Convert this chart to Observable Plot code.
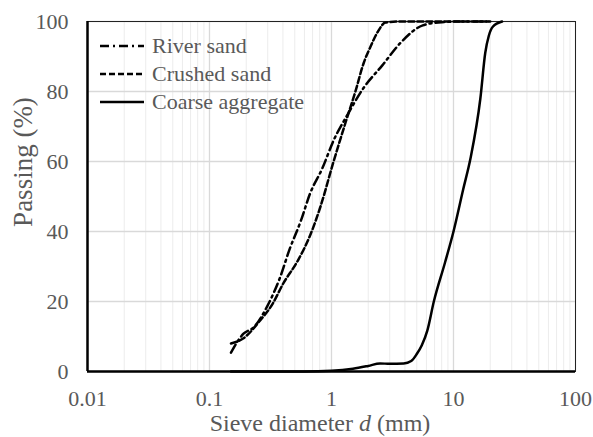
<!DOCTYPE html>
<html>
<head>
<meta charset="utf-8">
<script src="https://cdn.jsdelivr.net/npm/d3@7"></script>
<script src="https://cdn.jsdelivr.net/npm/@observablehq/plot@0.6"></script>
<style>
  body { margin: 0; background: #fff; }
  #wrap { position: relative; width: 593px; height: 437px; font-family: "Liberation Serif", "Times New Roman", serif; color: #595959; }
  #chart { position: absolute; left: 0; top: 0; }
  .ytitle { position: absolute; left: 23px; top: 162px; transform: translate(-50%, -50%) rotate(-90deg); font-size: 27px; white-space: nowrap; }
  .xtitle { position: absolute; left: 320px; top: 423px; transform: translate(-50%, -50%); font-size: 24px; white-space: nowrap; }
  .legend { position: absolute; left: 98px; top: 32px; font-size: 22px; }
  .legend .row { display: flex; align-items: center; height: 28px; }
  .legend svg { width: 48px; height: 10px; margin-right: 6px; }
</style>
</head>
<body>
<div id="wrap">
  <div id="chart"></div>
  <div class="ytitle">Passing (%)</div>
  <div class="xtitle">Sieve diameter <i>d</i> (mm)</div>
  <div class="legend" id="legend"></div>
</div>
<script>
// ---- data ----
const xTicks = [0.01, 0.1, 1, 10, 100];
const yTicks = [0, 20, 40, 60, 80, 100];
const seriesNames = ["River sand", "Crushed sand", "Coarse aggregate"];

const riverD = [0.15, 0.19, 0.23, 0.3, 0.38, 0.45, 0.56, 0.67, 0.84, 1.04, 1.37, 1.83, 2.6, 3.7, 5.6, 8, 12, 20];
const riverP = [5.4, 10.8, 12.6, 18.9, 27, 34.6, 43, 51, 58, 66, 73.7, 81, 87.4, 94, 98.9, 99.8, 100, 100];

const crushedD = [0.15, 0.19, 0.26, 0.33, 0.4, 0.53, 0.67, 0.81, 1.04, 1.3, 1.57, 1.83, 2.1, 2.39, 2.77, 3.5, 5, 10, 20];
const crushedP = [8, 9.5, 14.6, 19.4, 25, 31.7, 39, 47, 60, 71, 80, 88, 93, 97, 99.7, 100, 100, 100, 100];

const coarseD = [0.15, 0.6, 1, 1.5, 2, 2.5, 3, 3.9, 4.5, 5, 5.5, 6.1, 6.9, 8.5, 10, 12, 13.8, 16.6, 18.2, 19.5, 21, 25];
const coarseP = [0, 0, 0.2, 0.8, 1.6, 2.3, 2.2, 2.3, 3, 5, 7.5, 11.7, 20, 31, 40, 52, 61, 78, 91, 96, 98.5, 100];

const dashes = ["9,4,2,4", "6,3", null];

// ---- build ----
const toRows = (D, P) => D.map((d, i) => ({d, p: P[i]}));
const series = [toRows(riverD, riverP), toRows(crushedD, crushedP), toRows(coarseD, coarseP)];

const minor = [];
for (let i = 0; i < xTicks.length - 1; i++) for (let k = 2; k <= 9; k++) minor.push(xTicks[i] * k);

const lineMarks = series.map((rows, i) => Plot.line(rows, {
  x: "d", y: "p", stroke: "#000", strokeWidth: 2.5,
  strokeDasharray: dashes[i] || undefined, curve: "monotone-x"
}));

const chart = Plot.plot({
  width: 593, height: 437,
  marginLeft: 87, marginRight: 18, marginTop: 21, marginBottom: 66,
  style: { fontFamily: "'Liberation Serif', 'Times New Roman', serif", fontSize: "22px", color: "#595959", background: "#fff", overflow: "visible" },
  x: { type: "log", domain: [0.01, 100] },
  y: { domain: [0, 100] },
  marks: [
    Plot.ruleX(minor, { stroke: "#ececec", strokeWidth: 1 }),
    Plot.ruleX(xTicks, { stroke: "#d9d9d9", strokeWidth: 1.3 }),
    Plot.ruleY(yTicks, { stroke: "#d9d9d9", strokeWidth: 1.3 }),
    Plot.frame({ stroke: "#222", strokeWidth: 1 }),
    ...lineMarks,
    Plot.ruleX([xTicks[0]], { stroke: "#000", strokeWidth: 2.5 }),
    Plot.ruleY([yTicks[0]], { stroke: "#000", strokeWidth: 2.5 }),
    Plot.axisX({ ticks: xTicks, tickSize: 0, tickPadding: 19, tickFormat: d => String(d), label: null, fill: "#595959" }),
    Plot.axisY({ ticks: yTicks, tickSize: 0, tickPadding: 19, label: null, fill: "#595959" })
  ]
});
document.getElementById("chart").appendChild(chart);

// ---- legend ----
const leg = document.getElementById("legend");
seriesNames.forEach((name, i) => {
  const row = document.createElement("div");
  row.className = "row";
  row.innerHTML = `<svg viewBox="0 0 48 10"><line x1="2" y1="5" x2="46" y2="5" stroke="#000" stroke-width="2.5" ${dashes[i] ? `stroke-dasharray="${dashes[i]}"` : ""}/></svg><span>${name}</span>`;
  leg.appendChild(row);
});
</script>
</body>
</html>
